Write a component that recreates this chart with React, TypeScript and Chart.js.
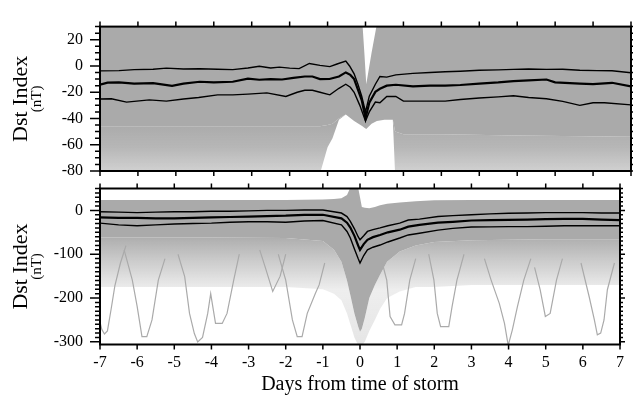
import React, { useEffect, useRef } from 'react';
import { Chart, registerables } from 'chart.js';

Chart.register(...registerables);

// ---------- shared ----------
const DAY_TICKS = [-7, -6, -5, -4, -3, -2, -1, 0, 1, 2, 3, 4, 5, 6, 7];
const X_TITLE = 'Days from time of storm';
const Y_TITLE = 'Dst Index';
const Y_UNIT = '(nT)';

// ---------- top panel (Dst, -80..30 nT) ----------
const TOP_Y_LABELS = [20, 0, -20, -40, -60, -80];

const TOP_UPPER_X = [-7, -6.5, -6.1, -5.6, -5.25, -4.8, -4.37, -3.9, -3.5, -3.1, -2.8, -2.5, -2.27, -2.0, -1.75, -1.48, -1.2, -0.94, -0.75, -0.52, -0.42, -0.3, -0.2, -0.1, 0, 0.1, 0.26, 0.38, 0.56, 0.8, 1.25, 1.7, 2.1, 2.5, 3.0, 3.5, 3.9, 4.3, 4.77, 5.2, 5.65, 6.1, 6.5, 7];
const TOP_UPPER_Y = [-3.7, -3.5, -2.8, -2.5, -1.6, -2.3, -2.1, -2.5, -2.8, -1.5, -0.2, -1.5, -0.9, -1.6, -2, 1.9, 0.5, -0.5, 1.5, 3.7, 0, -6, -13.9, -23, -35, -23, -13.9, -8, -8.5, -6.8, -5.6, -5, -4.4, -4, -3.3, -3, -2.6, -2.3, -2.6, -2.5, -3.3, -3.5, -3.6, -5.2];

const TOP_MED_X = [-7, -6.8, -6.5, -6.1, -5.6, -5.1, -4.8, -4.37, -4, -3.5, -3.1, -2.8, -2.5, -2.2, -1.9, -1.6, -1.4, -1.2, -0.95, -0.7, -0.52, -0.4, -0.3, -0.2, -0.1, 0, 0.1, 0.26, 0.38, 0.56, 0.8, 1.25, 1.7, 2.1, 2.5, 3.0, 3.5, 3.9, 4.3, 4.77, 5.0, 5.65, 6.0, 6.5, 7];
const TOP_MED_Y = [-14.3, -12.7, -12.5, -13.4, -13, -15.2, -13.5, -12, -12.5, -12, -9.6, -10.5, -10, -10.3, -9, -8, -8, -10, -9.9, -8, -4.9, -6.8, -10, -18, -26, -40, -28, -19.7, -17.4, -15, -14.3, -15.5, -15, -15, -14.5, -13.4, -12.5, -11.5, -11, -10.3, -12.5, -13.4, -13.8, -12.8, -15.5];

const TOP_LOW_X = [-7, -6.7, -6.3, -5.7, -5.25, -4.8, -4.4, -3.9, -3.5, -3.1, -2.6, -2.1, -1.8, -1.6, -1.4, -1.2, -0.94, -0.7, -0.52, -0.4, -0.3, -0.15, 0, 0.1, 0.26, 0.38, 0.56, 0.8, 1.0, 1.25, 2.1, 2.5, 3.0, 3.5, 3.9, 4.3, 4.77, 5.2, 5.65, 6.0, 6.3, 7];
const TOP_LOW_Y = [-25.1, -25, -27.5, -25.8, -26.8, -25.1, -24, -22, -22, -21.4, -20.5, -23.2, -20, -18.5, -18.5, -20, -22, -17, -13.9, -16.2, -20, -30, -42, -35, -27.5, -28, -23.2, -23.2, -26.8, -26.8, -26.8, -25.5, -24.4, -23.5, -22.7, -24, -25, -27, -30, -28, -28, -29.6];

// envelope of the grey cloud of individual storms
const TOP_ENV_X = [-7, -2, -1.3, -1.2, -1.0, -0.87, -0.7, -0.52, -0.3, -0.08, -0.03, 0.02, 0.16, 0.3, 0.5, 0.72, 0.78, 1.0, 2, 4, 7];
const TOP_CLOUD_HIGH = [32, 32, 32, 32, 32, 32, 32, 32, 32, 32, 10, -14, 10, 32, 32, 32, 32, 32, 32, 32, 32];
const TOP_CLOUD_DENSE_LOW = [-46, -46, -46, -46, -45, -44, -40, -37, -42, -46, -47, -48, -44, -42, -41, -41, -50, -52, -52, -53, -54];
const TOP_CLOUD_SPARSE_LOW = [-82, -82, -82, -82, -62, -55, -41, -37, -42, -46, -47, -48, -44, -42, -41, -41, -82, -82, -82, -82, -82];

// ---------- bottom panel (Dst, -306..50 nT) ----------
const BOT_Y_LABELS = [0, -100, -200, -300];

const BOT_LINE_X = [-7, -6.5, -6, -5.5, -5, -4.5, -4, -3.5, -3, -2.5, -2, -1.5, -1, -0.5, -0.35, -0.26, -0.15, -0.05, 0, 0.1, 0.2, 0.35, 0.54, 0.75, 1.07, 1.3, 1.6, 2.1, 2.5, 3, 3.5, 4, 4.5, 5, 5.5, 6, 6.5, 7];
const BOT_UPPER = [-3, -4, -5, -4, -3, -3, -2, -2, -1, 0, 0, 1, 1, -6, -14, -25, -42, -60, -67, -58, -48, -44, -40, -35, -29, -22, -20, -14, -12, -10, -8, -6.5, -6, -5, -5, -5, -6, -6];
const BOT_MEDIAN = [-16, -17, -17, -18, -18, -17, -16, -15, -14, -13, -12, -10, -10, -18, -28, -39, -58, -80, -90, -77, -67, -61, -56, -50, -44, -37, -33, -28, -26, -23, -22, -21.5, -21, -20, -19.5, -19.5, -21, -22];
const BOT_LOWER = [-29, -33, -35, -33, -31, -30, -29, -27, -26, -26, -27, -24, -23, -33, -48, -63, -88, -110, -120, -103, -90, -84, -79, -72, -63, -56, -52, -45, -41, -38, -37.5, -37, -37, -36, -35, -35, -35, -35];

const BOT_ENV_X = [-7, -4, -2, -1, -0.7, -0.5, -0.35, -0.26, -0.15, -0.05, 0, 0.05, 0.13, 0.25, 0.4, 0.54, 0.73, 1.07, 1.5, 2, 3, 5, 7];
const BOT_CLOUD_HIGH = [24, 24, 24, 25, 26, 28, 35, 52, 52, 52, 30, 8, 6, 5, 8, 12, 15, 18, 21, 23, 24, 24, 24];
const BOT_CLOUD_DENSE_LOW = [-62, -62, -63, -70, -90, -117, -160, -193, -235, -265, -277, -270, -245, -200, -170, -147, -117, -94, -80, -72, -68, -66, -66];
const BOT_CLOUD_SPARSE_LOW = [-175, -175, -175, -180, -190, -205, -235, -260, -290, -308, -308, -308, -300, -275, -250, -225, -200, -185, -175, -175, -170, -170, -170];

// individual strong storms dipping out of the cloud
const DIP_A_X = [-7, -6.95, -6.88, -6.8, -6.7, -6.6, -6.45, -6.3];
const DIP_A_Y = [-255, -272, -282, -275, -225, -172, -120, -80];
const DIP_B_X = [-6.35, -6.13, -6.0, -5.87, -5.74, -5.6, -5.43, -5.25];
const DIP_B_Y = [-90, -159, -219, -288, -288, -250, -159, -110];
const DIP_C_X = [-4.9, -4.72, -4.59, -4.46, -4.37, -4.24, -4.1, -4.02, -3.89, -3.71, -3.58, -3.4, -3.25];
const DIP_C_Y = [-100, -151, -235, -281, -300, -290, -235, -190, -258, -258, -235, -159, -100];
const DIP_J_X = [-2.7, -2.55, -2.35, -2.15, -2.0];
const DIP_J_Y = [-90, -130, -185, -150, -100];
const DIP_D_X = [-2.2, -2.0, -1.82, -1.69, -1.56, -1.42, -1.2, -1.1, -0.95];
const DIP_D_Y = [-100, -159, -250, -288, -288, -235, -189, -170, -120];
const DIP_E_X = [0.6, 0.72, 0.81, 0.94, 1.12, 1.2, 1.34, 1.5];
const DIP_E_Y = [-120, -159, -242, -261, -261, -235, -159, -110];
const DIP_F_X = [1.85, 1.99, 2.08, 2.17, 2.39, 2.48, 2.61, 2.8];
const DIP_F_Y = [-100, -159, -235, -265, -265, -219, -159, -100];
const DIP_G_X = [3.35, 3.53, 3.75, 3.89, 3.99, 4.1, 4.24, 4.41, 4.6];
const DIP_G_Y = [-110, -159, -212, -258, -308, -273, -219, -159, -110];
const DIP_H_X = [4.7, 4.85, 4.99, 5.12, 5.29, 5.45];
const DIP_H_Y = [-130, -181, -242, -235, -159, -110];
const DIP_I_X = [5.95, 6.17, 6.31, 6.39, 6.48, 6.57, 6.66, 6.85];
const DIP_I_Y = [-120, -197, -250, -284, -280, -250, -181, -120];

// ---------- styling ----------
const FONT = "'Liberation Serif', 'Times New Roman', 'DejaVu Serif', serif";
const GRAY = 'rgb(170,170,170)';
const CLEAR = 'rgba(0,0,0,0)';

function pts(xs: number[], ys: number[]) {
  return xs.map((x, i) => ({ x, y: ys[i] }));
}

function gradientFill(stops: [number, number][]) {
  return (ctx: any) => {
    const chart = ctx.chart;
    const y = chart.scales && chart.scales.y;
    if (!chart.chartArea || !y) return 'rgba(170,170,170,0.7)';
    const y0 = y.getPixelForValue(stops[0][0]);
    const y1 = y.getPixelForValue(stops[stops.length - 1][0]);
    const g = chart.ctx.createLinearGradient(0, y0, 0, y1);
    for (const [v, a] of stops) {
      const t = (y.getPixelForValue(v) - y0) / (y1 - y0);
      g.addColorStop(Math.min(1, Math.max(0, t)), `rgba(170,170,170,${a})`);
    }
    return g;
  };
}

function blackLine(label: string, xs: number[], ys: number[], width: number) {
  return {
    label,
    data: pts(xs, ys),
    borderColor: '#000',
    borderWidth: width,
    pointRadius: 0,
    fill: false,
    order: 0,
  };
}

function grayLine(label: string, xs: number[], ys: number[]) {
  return {
    label,
    data: pts(xs, ys),
    borderColor: GRAY,
    borderWidth: 1.2,
    pointRadius: 0,
    fill: false,
    order: 5,
  };
}

function cloud(xs: number[], high: number[], denseLow: number[], sparseLow: number[], stops: [number, number][]) {
  return [
    { label: 'cloud-high', data: pts(xs, high), borderColor: CLEAR, borderWidth: 0, pointRadius: 0, fill: '+1', backgroundColor: GRAY, order: 10 },
    { label: 'cloud-dense', data: pts(xs, denseLow), borderColor: CLEAR, borderWidth: 0, pointRadius: 0, fill: '+1', backgroundColor: gradientFill(stops), order: 10 },
    { label: 'cloud-sparse', data: pts(xs, sparseLow), borderColor: CLEAR, borderWidth: 0, pointRadius: 0, fill: false, order: 10 },
  ];
}

function axesPlugin(yLabels: number[], minorStep: number) {
  return {
    id: 'frameTicks',
    afterDatasetsDraw(chart: any) {
      const { ctx, chartArea: a, scales } = chart;
      const x = scales.x;
      const y = scales.y;
      ctx.save();
      ctx.strokeStyle = '#000';
      ctx.lineWidth = 1.5;
      ctx.beginPath();
      for (const d of DAY_TICKS) {
        const px = x.getPixelForValue(d);
        ctx.moveTo(px, a.top);
        ctx.lineTo(px, a.top - 5);
        ctx.moveTo(px, a.bottom);
        ctx.lineTo(px, a.bottom + 5);
      }
      const lo = Math.ceil(y.min / minorStep);
      const hi = Math.floor(y.max / minorStep);
      for (let k = lo; k <= hi; k++) {
        const v = k * minorStep;
        const py = y.getPixelForValue(v);
        const major = yLabels.includes(v);
        ctx.moveTo(a.left, py);
        ctx.lineTo(a.left - (major ? 10 : 5), py);
        ctx.moveTo(a.right, py);
        ctx.lineTo(a.right + (major ? 5 : 3), py);
      }
      ctx.stroke();
      ctx.lineWidth = 2;
      ctx.strokeRect(a.left, a.top, a.right - a.left, a.bottom - a.top);

      const cy = (a.top + a.bottom) / 2;
      ctx.fillStyle = '#000';
      ctx.textAlign = 'center';
      ctx.textBaseline = 'alphabetic';
      ctx.translate(27, cy);
      ctx.rotate(-Math.PI / 2);
      ctx.font = `22px ${FONT}`;
      ctx.fillText(Y_TITLE, 0, 0);
      ctx.font = `15px ${FONT}`;
      ctx.fillText(Y_UNIT, 0, 13.5);
      ctx.restore();
    },
  };
}

function yScale(min: number, max: number, labels: number[]) {
  return {
    type: 'linear',
    position: 'left',
    min,
    max,
    afterBuildTicks: (s: any) => {
      s.ticks = labels.map((v) => ({ value: v }));
    },
    afterFit: (s: any) => {
      s.width = 100;
    },
    grid: { display: false, drawTicks: false },
    border: { display: false },
    ticks: { color: '#000', font: { family: FONT, size: 16 }, padding: 17, autoSkip: false },
  };
}

const common = {
  animation: false,
  responsive: false,
  devicePixelRatio: 1,
  events: [],
  plugins: { legend: { display: false }, tooltip: { enabled: false } },
};

function topConfig(): any {
  return {
    type: 'line',
    data: {
      datasets: [
        blackLine('Upper quartile', TOP_UPPER_X, TOP_UPPER_Y, 1.4),
        blackLine('Median', TOP_MED_X, TOP_MED_Y, 2.2),
        blackLine('Lower quartile', TOP_LOW_X, TOP_LOW_Y, 1.4),
        ...cloud(TOP_ENV_X, TOP_CLOUD_HIGH, TOP_CLOUD_DENSE_LOW, TOP_CLOUD_SPARSE_LOW, [
          [-44, 1],
          [-62, 0.85],
          [-80, 0.55],
        ]),
      ],
    },
    options: {
      ...common,
      layout: { padding: { left: 0, right: 2, top: 14, bottom: 224 } },
      scales: {
        x: { type: 'linear', min: -7, max: 7, display: false },
        y: yScale(-80, 30, TOP_Y_LABELS),
      },
    },
    plugins: [axesPlugin(TOP_Y_LABELS, 5)],
  };
}

function botConfig(): any {
  return {
    type: 'line',
    data: {
      datasets: [
        blackLine('Upper quartile', BOT_LINE_X, BOT_UPPER, 1.4),
        blackLine('Median', BOT_LINE_X, BOT_MEDIAN, 2.2),
        blackLine('Lower quartile', BOT_LINE_X, BOT_LOWER, 1.4),
        grayLine('Storm A', DIP_A_X, DIP_A_Y),
        grayLine('Storm B', DIP_B_X, DIP_B_Y),
        grayLine('Storm C', DIP_C_X, DIP_C_Y),
        grayLine('Storm J', DIP_J_X, DIP_J_Y),
        grayLine('Storm D', DIP_D_X, DIP_D_Y),
        grayLine('Storm E', DIP_E_X, DIP_E_Y),
        grayLine('Storm F', DIP_F_X, DIP_F_Y),
        grayLine('Storm G', DIP_G_X, DIP_G_Y),
        grayLine('Storm H', DIP_H_X, DIP_H_Y),
        grayLine('Storm I', DIP_I_X, DIP_I_Y),
        ...cloud(BOT_ENV_X, BOT_CLOUD_HIGH, BOT_CLOUD_DENSE_LOW, BOT_CLOUD_SPARSE_LOW, [
          [-62, 0.95],
          [-100, 0.7],
          [-140, 0.45],
          [-180, 0.2],
          [-306, 0.3],
        ]),
      ],
    },
    options: {
      ...common,
      layout: { padding: { left: 0, right: 2, top: 188.5, bottom: 0 } },
      scales: {
        x: {
          type: 'linear',
          position: 'bottom',
          min: -7,
          max: 7,
          afterBuildTicks: (s: any) => {
            s.ticks = DAY_TICKS.map((v) => ({ value: v }));
          },
          afterFit: (s: any) => {
            s.height = 50.5;
          },
          grid: { display: false, drawTicks: false },
          border: { display: false },
          ticks: { color: '#000', font: { family: FONT, size: 16 }, padding: 9, maxRotation: 0, autoSkip: false },
          title: { display: true, text: X_TITLE, color: '#000', font: { family: FONT, size: 20, lineHeight: 1 }, padding: 0 },
        },
        y: yScale(-306, 50, BOT_Y_LABELS),
      },
    },
    plugins: [axesPlugin(BOT_Y_LABELS, 10)],
  };
}

export default function App() {
  const topRef = useRef<HTMLCanvasElement>(null);
  const botRef = useRef<HTMLCanvasElement>(null);

  useEffect(() => {
    const c1 = new Chart(topRef.current as HTMLCanvasElement, topConfig());
    const c2 = new Chart(botRef.current as HTMLCanvasElement, botConfig());
    return () => {
      c1.destroy();
      c2.destroy();
    };
  }, []);

  const canvasStyle: React.CSSProperties = { position: 'absolute', left: 0, top: 0, width: 633, height: 395 };
  return (
    <div style={{ position: 'fixed', left: 0, top: 0, width: 633, height: 395, background: '#fff' }}>
      <canvas ref={topRef} width={633} height={395} style={canvasStyle} />
      <canvas ref={botRef} width={633} height={395} style={canvasStyle} />
    </div>
  );
}
